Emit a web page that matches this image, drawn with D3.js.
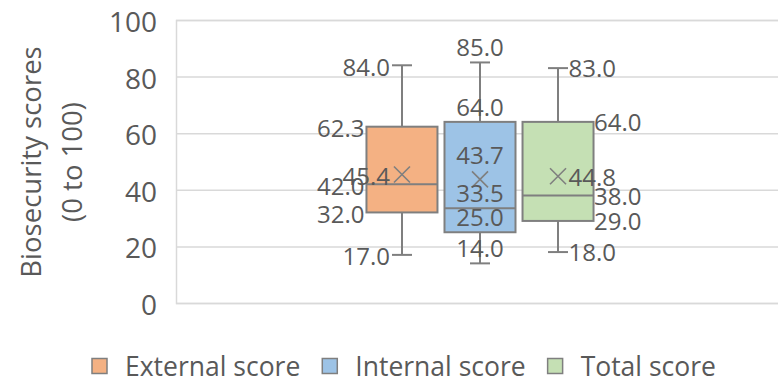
<!DOCTYPE html>
<html>
<head>
<meta charset="utf-8">
<script src="https://cdn.jsdelivr.net/npm/d3@7"></script>
<style>
  html, body { margin: 0; padding: 0; background: #ffffff; }
  svg { display: block; }
  text { font-family: "Open Sans", "Noto Sans", sans-serif; fill: #595959; }
</style>
</head>
<body>
<svg id="chart" width="778" height="380"></svg>
<script>
// Box-plot summary for each biosecurity score
const categories = ["External score", "Internal score", "Total score"];
const minVals    = [17.0, 14.0, 18.0];
const q1Vals     = [32.0, 25.0, 29.0];
const medianVals = [42.0, 33.5, 38.0];
const q3Vals     = [62.3, 64.0, 64.0];
const maxVals    = [84.0, 85.0, 83.0];
const meanVals   = [45.4, 43.7, 44.8];
const yTicks     = [0, 20, 40, 60, 80, 100];
const fills      = ["#F4B183", "#9DC3E6", "#C5E0B4"];

const series = categories.map((name, i) => ({
  name, fill: fills[i],
  min: minVals[i], q1: q1Vals[i], median: medianVals[i],
  q3: q3Vals[i], max: maxVals[i], mean: meanVals[i]
}));

// where each series puts its value labels
const labelSide = ["left", "top", "right"];

const svg = d3.select("#chart");
const plot = { left: 176, right: 784, top: 20, bottom: 303 };
const stroke = "#7f7f7f";

const y = d3.scaleLinear().domain([0, 100]).range([plot.bottom, plot.top]);

// one group spanning the plot, with the three boxes side by side in its middle
const group = d3.scaleBand().domain(["all"]).range([plot.left, plot.right]);
const gMid = group("all") + group.bandwidth() / 2;
const gHalf = group.bandwidth() * 0.385 / 2;
const x = d3.scalePoint().domain(categories).range([gMid - gHalf, gMid + gHalf]).padding(0.5);
const boxW = x.step() * 0.91;
const capW = 20;
const markR = 8;

// gridlines and value axis
const yAxis = d3.axisLeft(y).tickValues(yTicks).tickSize(-(plot.right - plot.left)).tickFormat(d3.format("d"));
const ga = svg.append("g").attr("transform", `translate(${plot.left},0)`).call(yAxis);
ga.select(".domain").attr("stroke", "#d9d9d9").attr("stroke-width", 1.5);
ga.selectAll(".tick line").attr("stroke", "#d9d9d9").attr("stroke-width", 1.5);
ga.selectAll(".tick text")
  .attr("x", -19).attr("dy", null).attr("y", 11.5)
  .attr("font-size", 28).attr("fill", "#595959")
  .style("font-family", '"Open Sans", sans-serif');

// axis title
const title = svg.append("text")
  .attr("transform", `translate(0,162) rotate(-90)`)
  .attr("text-anchor", "middle").attr("font-size", 27.5);
title.append("tspan").attr("x", 0).attr("y", 41).text("Biosecurity scores");
title.append("tspan").attr("x", 0).attr("y", 82).text("(0 to 100)");

const fmt = d3.format(".1f");

series.forEach((s, i) => {
  const cx = x(s.name);
  const g = svg.append("g");

  // whiskers
  g.append("line").attr("x1", cx).attr("x2", cx).attr("y1", y(s.max)).attr("y2", y(s.q3))
    .attr("stroke", stroke).attr("stroke-width", 2);
  g.append("line").attr("x1", cx).attr("x2", cx).attr("y1", y(s.q1)).attr("y2", y(s.min))
    .attr("stroke", stroke).attr("stroke-width", 2);
  [s.max, s.min].forEach(v => {
    g.append("line").attr("x1", cx - capW / 2).attr("x2", cx + capW / 2)
      .attr("y1", y(v)).attr("y2", y(v)).attr("stroke", stroke).attr("stroke-width", 2);
  });

  // box and median
  g.append("rect").attr("x", cx - boxW / 2).attr("y", y(s.q3))
    .attr("width", boxW).attr("height", y(s.q1) - y(s.q3))
    .attr("fill", s.fill).attr("stroke", stroke).attr("stroke-width", 2);
  g.append("line").attr("x1", cx - boxW / 2).attr("x2", cx + boxW / 2)
    .attr("y1", y(s.median)).attr("y2", y(s.median)).attr("stroke", stroke).attr("stroke-width", 2);

  // mean marker
  const my = y(s.mean);
  g.append("path")
    .attr("d", `M${cx - markR},${my - markR}L${cx + markR},${my + markR}M${cx - markR},${my + markR}L${cx + markR},${my - markR}`)
    .attr("stroke", stroke).attr("stroke-width", 1.6).attr("fill", "none");

  // value labels
  const items = [
    { v: s.max, kind: "cap" }, { v: s.q3, kind: "box" }, { v: s.median, kind: "box" },
    { v: s.q1, kind: "box" }, { v: s.min, kind: "cap" }, { v: s.mean, kind: "mean" }
  ];
  const side = labelSide[i];
  items.forEach(it => {
    const t = g.append("text").attr("font-size", 24).text(fmt(it.v));
    const half = it.kind === "cap" ? capW / 2 : it.kind === "box" ? boxW / 2 : markR + 2;
    if (side === "left") {
      t.attr("text-anchor", "end").attr("x", cx - half - 2).attr("y", y(it.v) + 10.5);
    } else if (side === "right") {
      t.attr("text-anchor", "start").attr("x", cx + half + 0.5).attr("y", y(it.v) + 9.3);
    } else {
      t.attr("text-anchor", "middle").attr("x", cx)
        .attr("y", y(it.v) - (it.kind === "mean" ? 15 : 6));
    }
  });
});

// legend
const legend = svg.append("g").attr("transform", "translate(92,366)");
const swatch = 15, swatchGap = 18, itemGap = 22;
let lx = 0;
series.forEach(s => {
  const item = legend.append("g").attr("transform", `translate(${lx},0)`);
  item.append("rect").attr("x", 0).attr("y", -swatch / 2).attr("width", swatch).attr("height", swatch)
    .attr("fill", s.fill).attr("stroke", stroke).attr("stroke-width", 1.5);
  const t = item.append("text").attr("x", swatch + swatchGap).attr("y", 9.5)
    .attr("font-size", 26.5).text(s.name);
  lx += swatch + swatchGap + t.node().getComputedTextLength() + itemGap;
});
</script>
</body>
</html>
